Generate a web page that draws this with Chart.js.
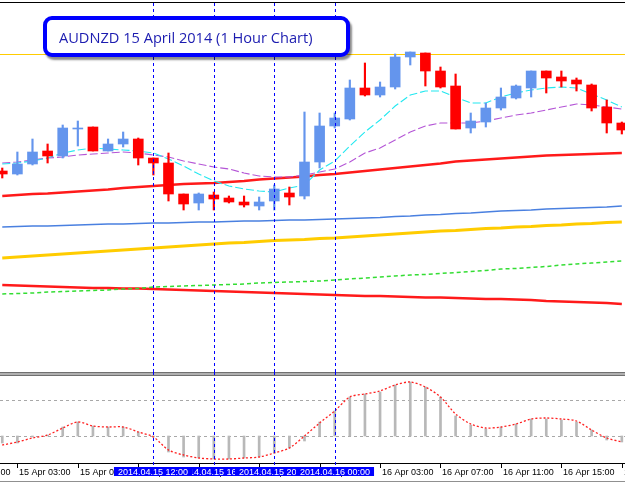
<!DOCTYPE html>
<html>
<head>
<meta charset="utf-8">
<title>AUDNZD H1</title>
<script src="https://cdn.jsdelivr.net/npm/chart.js@4.4.1/dist/chart.umd.min.js"></script>
<style>
  body { margin: 0; background: #fff; }
  #wrap { position: relative; width: 625px; height: 485px; overflow: hidden; }
  #main { position: absolute; left: 0; top: 0; }
  #sub { position: absolute; left: 0; top: 372px; }
  #title {
    position: absolute; left: 43px; top: 16px; width: 307px; height: 41px;
    box-sizing: border-box; border: 4px solid #0000ff; border-radius: 9px;
    background: #fff; box-shadow: 2px 3px 2px rgba(0,0,0,.45);
    font: 14.6px "Open Sans"; color: #1c1cb0; line-height: 31px; padding: 2px 0 0 12px;
    white-space: nowrap;
  }
</style>
</head>
<body>
<div id="wrap">
  <canvas id="main" width="625" height="372"></canvas>
  <canvas id="sub" width="625" height="113"></canvas>
  <div id="title">AUDNZD 15 April 2014 (1 Hour Chart)</div>
</div>
<script>
// hourly candles, 15 Apr 02:00 -> 16 Apr 19:00
const open  = [1.0829,1.0826,1.0836,1.0849,1.0844,1.0871,1.0873,1.0849,1.0856,1.0861,1.0842,1.0837,1.0806,1.0797,1.0805,1.0802,1.0798,1.0794,1.0799,1.0807,1.0804,1.0838,1.0874,1.0881,1.0912,1.0905,1.0913,1.0943,1.0947,1.0929,1.0914,1.0872,1.0878,1.0892,1.0902,1.0912,1.0929,1.0923,1.0920,1.0915,1.0893,1.0877];
const high  = [1.0832,1.0848,1.0861,1.0856,1.0875,1.0879,1.0873,1.0861,1.0868,1.0862,1.0842,1.0847,1.0806,1.0807,1.0808,1.0804,1.0804,1.0803,1.0815,1.0813,1.0888,1.0887,1.0887,1.0920,1.0937,1.0918,1.0946,1.0948,1.0947,1.0933,1.0926,1.0887,1.0897,1.0912,1.0915,1.0929,1.0929,1.0929,1.0922,1.0916,1.0900,1.0878];
const low   = [1.0822,1.0825,1.0835,1.0837,1.0842,1.0854,1.0849,1.0849,1.0853,1.0835,1.0825,1.0799,1.0790,1.0790,1.0790,1.0797,1.0793,1.0790,1.0790,1.0795,1.0801,1.0832,1.0872,1.0880,1.0904,1.0903,1.0911,1.0935,1.0914,1.0912,1.0871,1.0867,1.0873,1.0890,1.0901,1.0903,1.0907,1.0913,1.0909,1.0889,1.0867,1.0866];
const close = [1.0826,1.0836,1.0848,1.0844,1.0872,1.0872,1.0849,1.0856,1.0861,1.0842,1.0837,1.0806,1.0796,1.0806,1.0801,1.0798,1.0795,1.0798,1.0811,1.0803,1.0838,1.0874,1.0882,1.0912,1.0905,1.0913,1.0943,1.0948,1.0929,1.0913,1.0871,1.0879,1.0892,1.0903,1.0914,1.0929,1.0922,1.0919,1.0916,1.0892,1.0877,1.0870];

// moving averages
const maCyan   = [1.0836,1.0837,1.0839,1.0842,1.0847,1.0850,1.0852,1.0851,1.0850,1.0849,1.0847,1.0841,1.0834,1.0826,1.0819,1.0814,1.0811,1.0809,1.0808,1.0812,1.0815,1.0830,1.0839,1.0854,1.0868,1.0880,1.0894,1.0905,1.0909,1.0909,1.0903,1.0897,1.0897,1.0903,1.0907,1.0910,1.0912,1.0913,1.0912,1.0906,1.0900,1.0893];
const maPurple = [1.0837,1.0838,1.0840,1.0842,1.0843,1.0845,1.0846,1.0847,1.0848,1.0847,1.0845,1.0843,1.0839,1.0836,1.0833,1.0831,1.0827,1.0824,1.0823,1.0823,1.0825,1.0828,1.0831,1.0838,1.0847,1.0852,1.0860,1.0868,1.0874,1.0877,1.0877,1.0877,1.0879,1.0882,1.0885,1.0887,1.0890,1.0893,1.0896,1.0895,1.0893,1.0891];
const maRed    = [1.0804,1.0805,1.0806,1.08065,1.08075,1.08085,1.08095,1.08105,1.0812,1.0813,1.0814,1.0815,1.0816,1.08165,1.0817,1.0818,1.0819,1.08205,1.08215,1.08225,1.08235,1.0825,1.0826,1.08275,1.0829,1.08305,1.0832,1.08335,1.0835,1.08365,1.08385,1.08395,1.08405,1.08415,1.08425,1.08435,1.08445,1.0845,1.08455,1.0846,1.08465,1.0847];
const maBlue   = [1.0773,1.07735,1.0774,1.0774,1.07745,1.0775,1.07755,1.0776,1.0776,1.07765,1.0777,1.0777,1.07775,1.0778,1.0778,1.07785,1.0779,1.0779,1.07795,1.0780,1.0780,1.07805,1.0781,1.07815,1.0782,1.07825,1.07835,1.0784,1.0785,1.07855,1.07865,1.0787,1.0788,1.0789,1.07895,1.0790,1.0791,1.07915,1.0792,1.07925,1.0793,1.0794];
const maGold   = [1.0742,1.0743,1.0744,1.0745,1.0746,1.0747,1.0748,1.0749,1.0750,1.0751,1.0752,1.0753,1.0754,1.0755,1.0756,1.0757,1.07575,1.07585,1.07595,1.0760,1.07605,1.07615,1.0762,1.0763,1.0764,1.0765,1.0766,1.0767,1.0768,1.0769,1.07695,1.07705,1.07715,1.0772,1.0773,1.07735,1.07745,1.0775,1.0776,1.07765,1.07775,1.0778];
const maGreen  = [1.0706,1.07065,1.0707,1.0708,1.07085,1.0709,1.07095,1.0710,1.0711,1.07115,1.0713,1.07135,1.0714,1.07145,1.0715,1.07155,1.0716,1.0717,1.07175,1.0718,1.07185,1.0719,1.0720,1.0721,1.0722,1.0723,1.0724,1.0725,1.07255,1.07265,1.07275,1.07285,1.07295,1.0731,1.07315,1.07325,1.07335,1.0735,1.0736,1.0737,1.0738,1.0739];
const maRed2   = [1.0715,1.07145,1.0714,1.07135,1.0713,1.07125,1.0712,1.0712,1.07115,1.07115,1.0711,1.07105,1.0710,1.07095,1.0709,1.07085,1.0708,1.07075,1.0707,1.07065,1.0706,1.07055,1.0705,1.07045,1.0704,1.0704,1.07035,1.0703,1.07025,1.07025,1.0702,1.07015,1.0701,1.0701,1.07005,1.0700,1.0699,1.06985,1.0698,1.06975,1.0697,1.0696];
const levelLine = 1.0946;

// oscillator (lower window)
const histo  = [-0.7,-0.7,-0.1,0.1,0.9,1.4,1.0,0.9,0.9,0.4,-0.1,-1.6,-2.1,-2.2,-2.3,-2.3,-2.2,-2.1,-1.7,-1.2,-0.5,1.4,2.5,3.9,4.2,4.4,5.1,5.4,4.9,3.9,2.0,1.1,0.7,0.9,1.2,1.7,1.7,1.6,1.4,0.6,-0.4,-0.6];
const signal = [-0.9,-0.6,-0.2,0.1,0.8,1.4,1.0,0.9,0.9,0.4,-0.1,-1.4,-1.9,-2.2,-2.3,-2.3,-2.2,-2.1,-1.7,-1.2,0.0,1.3,2.5,3.9,4.2,4.5,5.1,5.4,4.9,3.9,2.2,1.2,0.8,0.9,1.2,1.7,1.8,1.7,1.5,0.6,-0.2,-0.6];
const oscLevels = [0, 3.6];

// time axis
const tickIdx  = [-3, 1, 5, 9, 13, 17, 21, 25, 29, 33, 37, 41];
const tickText = ['14 Apr 23:00','15 Apr 03:00','15 Apr 07:00','15 Apr 11:00','15 Apr 15:00','15 Apr 19:00','15 Apr 23:00','16 Apr 03:00','16 Apr 07:00','16 Apr 11:00','16 Apr 15:00','16 Apr 19:00'];
const markIdx  = [10, 14, 18, 22];
const markText = ['2014.04.15 12:00','2014.04.15 16:00','2014.04.15 20:00','2014.04.16 00:00'];
const markOrder = [1, 0, 2, 3];

const BULL = '#6495ed';
const BEAR = '#ff0000';
const candleColor = open.map((o, i) => close[i] >= o ? BULL : BEAR);

function pts(arr) {
  return arr.map((v, i) => ({ x: i, y: v }));
}

const xAxis = { type: 'linear', min: -0.15, max: 41.21, offset: false, display: false };

function maLine(data, color, width, dash) {
  return {
    type: 'line', data: pts(data), borderColor: color, borderWidth: width,
    borderDash: dash || [], pointRadius: 0, tension: 0, order: 5
  };
}

// dashed vertical lines, drawn pixel by pixel so they stay crisp blue
function drawMarks(chart, top, bottom) {
  const ctx = chart.ctx;
  const x = chart.scales.x;
  ctx.save();
  ctx.fillStyle = '#0000ff';
  markIdx.forEach(i => {
    const xx = Math.round(x.getPixelForValue(i));
    for (let yy = top; yy < bottom; yy += 6) {
      ctx.fillRect(xx, yy, 1, Math.min(3, bottom - yy));
    }
  });
  ctx.restore();
}

// -------- main price window --------
const mainDecor = {
  id: 'mainDecor',
  beforeDatasetsDraw(chart) {
    const { ctx, chartArea: a, scales: { y } } = chart;
    ctx.save();
    ctx.fillStyle = '#ffcc00';
    ctx.fillRect(a.left, Math.round(y.getPixelForValue(levelLine)), a.right - a.left, 1);
    ctx.restore();
  },
  afterDraw(chart) {
    drawMarks(chart, 3, chart.height);
    chart.ctx.fillStyle = '#000';
    chart.ctx.fillRect(0, 2, chart.width, 1);
  }
};

new Chart(document.getElementById('main'), {
  type: 'bar',
  data: {
    datasets: [
      {
        label: 'body', data: open.map((o, i) => ({ x: i, y: [o, close[i]] })),
        backgroundColor: candleColor, barThickness: 10, grouped: false, order: 0
      },
      {
        label: 'wick', data: low.map((l, i) => ({ x: i, y: [l, high[i]] })),
        backgroundColor: candleColor, barThickness: 1.5, grouped: false, order: 1
      },
      maLine(maCyan, '#22e8f0', 1.1, [8, 3]),
      maLine(maPurple, '#b455d6', 1.1, [8, 3]),
      maLine(maRed, '#ff1a1a', 2.4),
      maLine(maBlue, '#4a80e0', 1.5),
      maLine(maGold, '#ffcc00', 3),
      maLine(maGreen, '#33dd33', 1.5, [4, 3]),
      maLine(maRed2, '#ff1a1a', 2.4)
    ]
  },
  options: {
    responsive: false,
    animation: false,
    events: [],
    layout: { padding: 0 },
    plugins: { legend: { display: false }, tooltip: { enabled: false } },
    scales: {
      x: xAxis,
      y: { min: 1.0628, max: 1.1000, display: false }
    }
  },
  plugins: [mainDecor]
});

// -------- oscillator window + time axis --------
const subDecor = {
  id: 'subDecor',
  beforeDatasetsDraw(chart) {
    const { ctx, chartArea: a, scales: { y } } = chart;
    ctx.save();
    ctx.strokeStyle = '#a8a8a8';
    ctx.lineWidth = 1;
    ctx.setLineDash([3, 3]);
    oscLevels.forEach(v => {
      const yy = Math.round(y.getPixelForValue(v)) + 0.5;
      ctx.beginPath();
      ctx.moveTo(a.left, yy);
      ctx.lineTo(a.right, yy);
      ctx.stroke();
    });
    ctx.restore();
  },
  afterDraw(chart) {
    const { ctx, scales: { x } } = chart;
    const w = chart.width;
    ctx.save();
    // window separator
    ctx.fillStyle = '#b0b0b0';
    ctx.fillRect(0, 0, w, 4);
    ctx.fillStyle = '#707070';
    ctx.fillRect(0, 0, w, 1);
    ctx.fillRect(0, 3, w, 1);
    // axis lines
    ctx.fillStyle = '#000';
    ctx.fillRect(0, 91, w, 1);
    ctx.fillStyle = '#909090';
    ctx.fillRect(0, 109, w, 1);
    ctx.restore();

    drawMarks(chart, 0, 95);

    ctx.save();
    ctx.font = '9px "Liberation Sans"';
    ctx.textBaseline = 'alphabetic';
    ctx.fillStyle = '#000';
    tickIdx.forEach((i, k) => {
      const xx = Math.round(x.getPixelForValue(i));
      ctx.fillRect(xx, 92, 1, 4);
      ctx.fillText(tickText[k], xx + 2, 103);
    });
    // highlighted labels of the vertical lines
    markOrder.forEach(k => {
      const xx = Math.round(x.getPixelForValue(markIdx[k]));
      const tw = ctx.measureText(markText[k]).width;
      ctx.fillStyle = '#0000ff';
      ctx.fillRect(xx - tw / 2 - 4, 95, tw + 8, 9);
      ctx.fillStyle = '#fff';
      ctx.fillText(markText[k], xx - tw / 2, 103);
    });
    ctx.restore();
  }
};

new Chart(document.getElementById('sub'), {
  type: 'bar',
  data: {
    datasets: [
      {
        label: 'osc', data: pts(histo), backgroundColor: '#b8b8b8',
        barThickness: 2, grouped: false, order: 2
      },
      {
        type: 'line', label: 'signal', data: pts(signal), borderColor: '#ff2020',
        borderWidth: 1.3, borderDash: [2, 2], pointRadius: 0, tension: 0.3, order: 1
      }
    ]
  },
  options: {
    responsive: false,
    animation: false,
    events: [],
    layout: { padding: { top: 5, bottom: 22, left: 0, right: 0 } },
    plugins: { legend: { display: false }, tooltip: { enabled: false } },
    scales: {
      x: xAxis,
      y: { min: -2.7, max: 5.9, display: false }
    }
  },
  plugins: [subDecor]
});
</script>
</body>
</html>
